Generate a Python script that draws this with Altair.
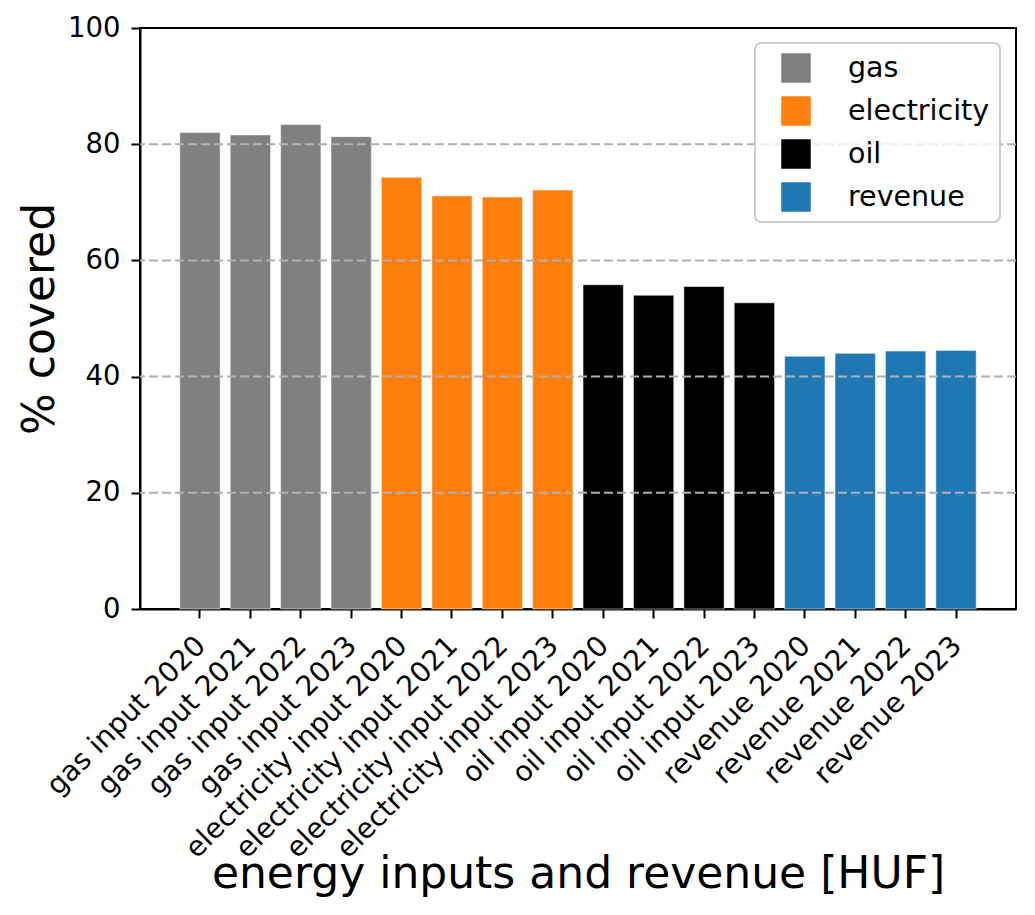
import altair as alt
import pandas as pd

labels = [
    "gas input 2020", "gas input 2021", "gas input 2022", "gas input 2023",
    "electricity input 2020", "electricity input 2021", "electricity input 2022", "electricity input 2023",
    "oil input 2020", "oil input 2021", "oil input 2022", "oil input 2023",
    "revenue 2020", "revenue 2021", "revenue 2022", "revenue 2023",
]
groups = ["gas"] * 4 + ["electricity"] * 4 + ["oil"] * 4 + ["revenue"] * 4
values = [
    82.0, 81.6, 83.4, 81.3,
    74.3, 71.1, 70.9, 72.1,
    55.8, 54.0, 55.5, 52.7,
    43.5, 44.0, 44.4, 44.5,
]
group_order = ["gas", "electricity", "oil", "revenue"]
group_colors = ["#808080", "#ff7f0e", "#000000", "#1f77b4"]
y_ticks = [0, 20, 40, 60, 80, 100]
grid_values = [20, 40, 60, 80]

df = pd.DataFrame({"label": labels, "group": groups, "value": values})
grid_df = pd.DataFrame({"value": grid_values})

bars = alt.Chart(df).mark_bar(stroke="white", strokeWidth=1, strokeOpacity=0.5).encode(
    x=alt.X(
        "label:N",
        sort=labels,
        scale=alt.Scale(paddingInner=0.2, paddingOuter=0.79),
        axis=alt.Axis(
            title="energy inputs and revenue [HUF]",
            labelAngle=-45,
            labelAlign="right",
            labelBaseline="alphabetic",
            labelOffset=7,
            labelPadding=29,
            labelFontSize=28,
            tickSize=9,
            labelOverlap=False,
            labelBound=False,
            labelLimit=400,
            titleFontSize=44,
            titleFontWeight="normal",
            titleX=438,
            titleY=278,
            titleAlign="center",
            titleBaseline="alphabetic",
            grid=False,
        ),
    ),
    y=alt.Y(
        "value:Q",
        scale=alt.Scale(domain=[0, 100], nice=False),
        axis=alt.Axis(
            values=y_ticks,
            title="% covered",
            labelFontSize=27.5,
            labelPadding=11,
            tickSize=9,
            grid=False,
            titleFontSize=44,
            titleFontWeight="normal",
            titleAngle=270,
            titleX=-87,
            titleY=290.5,
            titleAlign="center",
            titleBaseline="alphabetic",
        ),
    ),
    color=alt.Color(
        "group:N",
        sort=group_order,
        scale=alt.Scale(domain=group_order, range=group_colors),
        legend=alt.Legend(
            title=None,
            orient="none",
            legendX=615,
            legendY=15,
            padding=10,
            symbolOffset=16,
            labelOffset=37,
            rowPadding=13,
            symbolSize=870,
            symbolType="square",
            symbolStrokeWidth=0,
            symbolOpacity=1,
            labelFontSize=28.5,
            labelLimit=400,
            fillColor="rgba(255,255,255,0.8)",
            strokeColor="#cccccc",
            cornerRadius=6,
            zindex=2,
        ),
    ),
)

grid = alt.Chart(grid_df).mark_rule(color="#b0b0b0", strokeWidth=2, strokeDash=[9, 4]).encode(
    y=alt.Y("value:Q")
)

chart = (
    alt.layer(bars, grid)
    .properties(
        width=876,
        height=581,
        autosize=alt.AutoSizeParams(type="none"),
        padding={"left": 132, "top": 20, "right": 11, "bottom": 296},
    )
    .configure(font="DejaVu Sans")
    .configure_view(stroke="black", strokeWidth=2)
    .configure_axis(
        domainColor="black",
        domainWidth=2,
        tickColor="black",
        tickWidth=2,
        labelColor="black",
        titleColor="black",
        labelFont="DejaVu Sans",
        titleFont="DejaVu Sans",
    )
    .configure_legend(strokeWidth=2, labelFont="DejaVu Sans", labelColor="black")
)

chart.save("out.html", embed_options={"renderer": "svg", "actions": False})
